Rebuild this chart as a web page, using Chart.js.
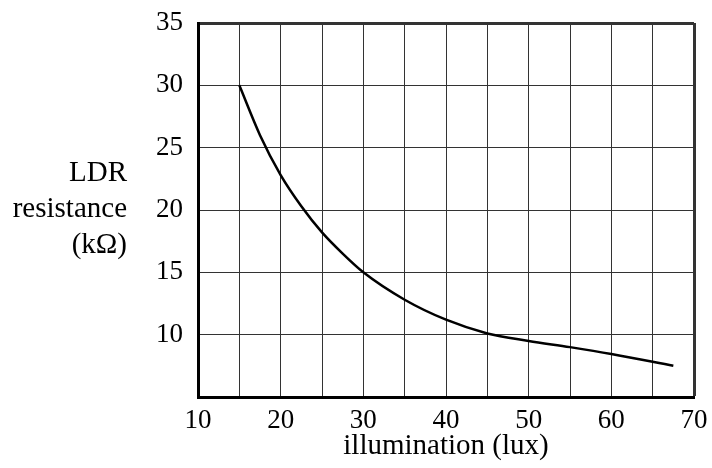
<!DOCTYPE html>
<html>
<head>
<meta charset="utf-8">
<script src="https://cdn.jsdelivr.net/npm/chart.js@4"></script>
<style>
  body { margin: 0; background: #fff; }
  #wrap { width: 712px; height: 468px; position: relative; }
</style>
</head>
<body>
<div id="wrap"><canvas id="ldrChart"></canvas></div>
<script>
// illumination (lux) vs LDR resistance (kOhm)
const illumination = [15, 17.5, 20, 22.5, 25, 27.5, 30, 35, 40, 45, 50, 55, 60, 67.5];
const resistance   = [30, 26.0, 22.8, 20.3, 18.2, 16.5, 15.0, 12.8, 11.2, 10.1, 9.5, 9.0, 8.45, 7.5];
const xTicks = [10, 20, 30, 40, 50, 60, 70];
const yTicks = [10, 15, 20, 25, 30, 35];
const yTitle = ['LDR', 'resistance', '(k\u03A9)'];
const xTitle = 'illumination (lux)';

const FONT = '"Liberation Serif", "Times New Roman", serif';

// y title is three right-aligned lines, drawn beside the axis
const yTitlePlugin = {
  id: 'yTitle',
  afterDraw(chart) {
    const ctx = chart.ctx;
    ctx.save();
    ctx.font = '29px ' + FONT;
    ctx.fillStyle = '#000';
    ctx.textAlign = 'right';
    ctx.textBaseline = 'middle';
    yTitle.forEach((t, i) => ctx.fillText(t, 127, 173 + i * 36));
    ctx.restore();
  }
};

const ctx = document.getElementById('ldrChart').getContext('2d');
new Chart(ctx, {
  type: 'line',
  data: {
    datasets: [{
      data: illumination.map((x, i) => ({ x: x, y: resistance[i] })),
      borderColor: '#000',
      borderWidth: 2.5,
      pointRadius: 0,
      cubicInterpolationMode: 'monotone',
      fill: false
    }]
  },
  options: {
    responsive: true,
    maintainAspectRatio: false,
    animation: false,
    layout: { padding: { top: 23, right: 18, left: 0, bottom: 0 } },
    plugins: { legend: { display: false }, tooltip: { enabled: false } },
    scales: {
      x: {
        type: 'linear',
        min: 10, max: 70,
        border: { display: true, color: '#000', width: 3 },
        grid: {
          color: '#333',
          lineWidth: c => (c.tick && c.tick.value === 70 ? 3 : 1),
          drawTicks: false
        },
        ticks: {
          stepSize: 5,
          padding: 8,
          color: '#000',
          font: { family: FONT, size: 27 },
          maxRotation: 0,
          callback: v => (xTicks.includes(v) ? String(v) : '')
        },
        title: {
          display: true,
          text: xTitle,
          color: '#000',
          font: { family: FONT, size: 29 },
          padding: { top: 0, bottom: 4 }
        },
        afterFit: s => { s.height = 71; s.paddingLeft = 0; s.paddingRight = 0; }
      },
      y: {
        type: 'linear',
        min: 5, max: 35,
        border: { display: true, color: '#000', width: 3 },
        grid: {
          color: '#333',
          lineWidth: c => (c.tick && c.tick.value === 35 ? 3 : 1),
          drawTicks: false
        },
        ticks: {
          stepSize: 2.5,
          padding: 15,
          color: '#000',
          font: { family: FONT, size: 27 },
          callback: v => (yTicks.includes(v) ? String(v) : '')
        },
        afterFit: s => { s.width = 198; s.paddingTop = 0; s.paddingBottom = 0; }
      }
    }
  },
  plugins: [yTitlePlugin]
});
</script>
</body>
</html>
